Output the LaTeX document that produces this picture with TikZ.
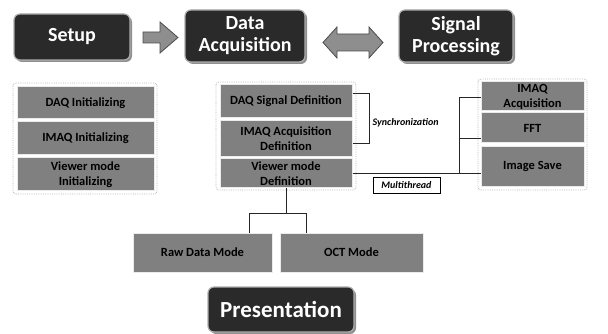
\documentclass[tikz,border=0pt]{standalone}
\usepackage{fontspec}
\setmainfont{Carlito}
\usetikzlibrary{shadows,calc}
\definecolor{headfill}{HTML}{2A2A2A}
\definecolor{itemfill}{HTML}{808080}
\definecolor{arrowfill}{HTML}{8E8E8E}
\begin{document}
\begin{tikzpicture}[x=1pt,y=-1pt,
  head/.style={fill=headfill, draw=gray!65, line width=1.2pt, rounded corners=6pt,
    text=white, font=\fontsize{20}{22}\selectfont\bfseries, align=center, inner sep=0pt,
    drop shadow={shadow xshift=2pt, shadow yshift=-2pt, fill=black!55, opacity=0.8}},
  item/.style={fill=itemfill, draw=white!92!black, line width=1pt, inner sep=0pt,
    font=\fontsize{12.5}{15}\selectfont\bfseries, text=black, align=center},
  panel/.style={draw=gray!55, densely dotted, line width=0.8pt, rounded corners=3pt},
  blockarrow/.style={fill=arrowfill, draw=black!70, line width=0.8pt, line join=miter},
  link/.style={draw=black!85, line width=0.8pt},
  note/.style={font=\fontsize{10}{11}\selectfont\bfseries\itshape, text=black, inner sep=0pt}
]
\useasboundingbox (0,0) rectangle (608,334);

% stage headers
\node[head, minimum width=116pt, minimum height=46pt] (setup) at (72,37) {Setup};
\node[head, minimum width=120pt, minimum height=52pt] (daq) at (245,36) {Data\\Acquisition};
\node[head, minimum width=114pt, minimum height=52pt] (sig) at (456,36) {Signal\\Processing};
\node[head, minimum width=146pt, minimum height=45pt, font=\fontsize{23}{25}\selectfont\bfseries]
  (pres) at (281,309.5) {Presentation};

% block arrows between the headers
\draw[blockarrow] (143,32) -- (160,32) -- (160,22) -- (178,37.5) -- (160,53) -- (160,43) -- (143,43) -- cycle;
\draw[blockarrow] (323,42.5) -- (337,27) -- (337,34) -- (369,34) -- (369,27) -- (383,42.5)
  -- (369,58) -- (369,51) -- (337,51) -- (337,58) -- cycle;

% dotted panels around each column
\draw[panel] (13,83) rectangle (157,194);
\draw[panel] (216,82) rectangle (356,190);
\draw[panel] (478,79) rectangle (587,190);

% setup column
\node[item, minimum width=137pt, minimum height=32pt] (daqinit) at (85.5,103) {DAQ Initializing};
\node[item, minimum width=137pt, minimum height=33pt] (imaqinit) at (85.5,138.5) {IMAQ Initializing};
\node[item, minimum width=137pt, minimum height=33pt] (viewinit) at (85.5,174.5) {Viewer mode\\Initializing};

% acquisition column
\node[item, minimum width=132pt, minimum height=33pt] (daqsig) at (286,101.5) {DAQ Signal Definition};
\node[item, minimum width=132pt, minimum height=36pt] (imaqdef) at (286,139) {IMAQ Acquisition\\Definition};
\node[item, minimum width=132pt, minimum height=29pt] (viewdef) at (286,173.5) {Viewer mode\\Definition};

% processing column
\node[item, minimum width=103pt, minimum height=29pt] (imaqacq) at (532.5,96.5) {IMAQ\\Acquisition};
\node[item, minimum width=103pt, minimum height=30pt] (fft) at (532.5,128) {FFT};
\node[item, minimum width=103pt, minimum height=40pt] (imgsave) at (532.5,166.5) {Image Save};

% presentation modes
\node[item, minimum width=139pt, minimum height=39pt] (raw) at (202.5,252.5) {Raw Data Mode};
\node[item, minimum width=143pt, minimum height=39pt] (oct) at (351.5,252.5) {OCT Mode};

% synchronization bracket
\draw[link] ([yshift=8.5pt]daqsig.east) -- ++(17,0) coordinate (syncR)
  |- ([yshift=-4pt]imaqdef.east);
\node[note, anchor=west] (synclbl) at (372.5,123) {Synchronization};

% multithread link into the processing column
\draw[link] ([yshift=0.5pt]viewdef.east) -- ([yshift=0.5pt]viewdef.east -| imgsave.west) coordinate (mtR);
\draw[link] ([yshift=-0.5pt]imaqacq.west) -- ++(-21,0) coordinate (brk) -- (brk |- mtR);
\draw[link] ([yshift=-10pt]fft.west) -- ([yshift=-10pt]fft.west -| brk);
\node[note, draw=black, fill=white, line width=0.6pt, minimum width=67pt, minimum height=16pt]
  (mt) at (406.5,185) {Multithread};

% tree to the presentation modes
\coordinate (fork) at ($(viewdef.south)+(0,25)$);
\draw[link] (viewdef.south) -- (fork);
\draw[link] ([xshift=-23pt]raw.north east) |- (fork) -| ([xshift=27pt]oct.north west);
\end{tikzpicture}
\end{document}
